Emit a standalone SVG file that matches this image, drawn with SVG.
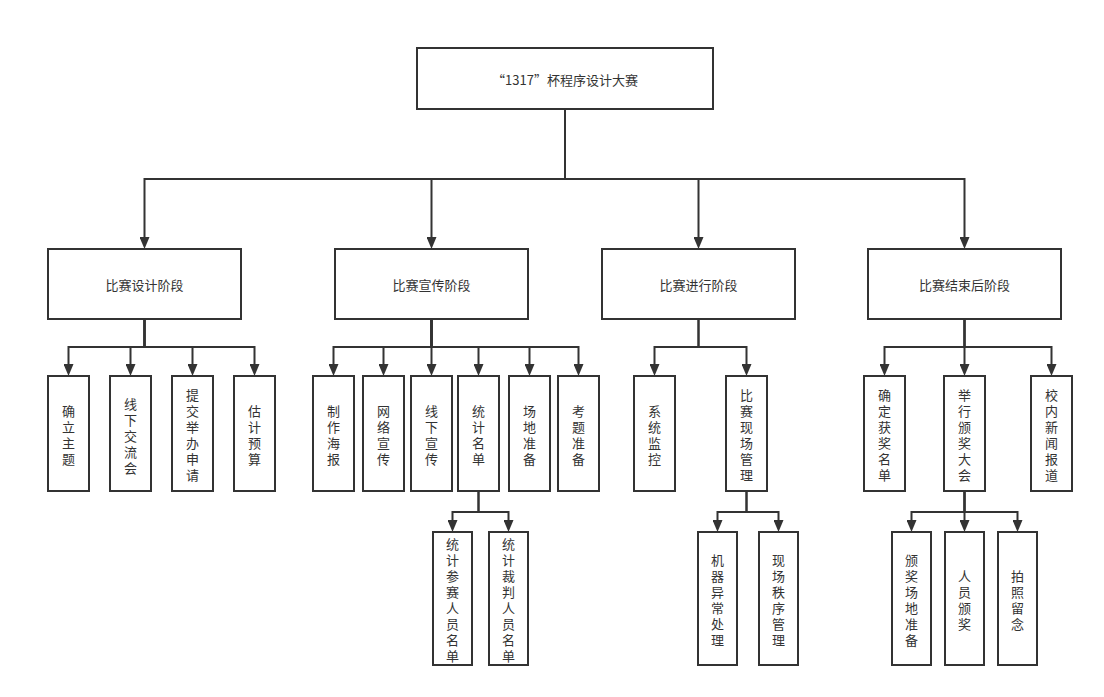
<svg xmlns="http://www.w3.org/2000/svg" width="1104" height="697" viewBox="0 0 1104 697">
<style>
.box{fill:#fff;stroke:#333;stroke-width:2}
.t{font-family:"Noto Sans CJK SC","Liberation Sans",sans-serif;font-size:13px;fill:#333;text-anchor:middle;dominant-baseline:central}
.c{fill:none;stroke:#333;stroke-width:2}
</style>
<defs>
<marker id="ar" markerUnits="userSpaceOnUse" markerWidth="12" markerHeight="10" viewBox="0 0 12 10" refX="0" refY="5" orient="auto">
<path d="M0,0 L12,5 L0,10 z" fill="#333"/>
</marker>
</defs>
<rect width="1104" height="697" fill="#fff"/>
<g id="connectors">
<path class="c" marker-end="url(#ar)" d="M565,109 V179 H144.5 V237"/>
<path class="c" marker-end="url(#ar)" d="M565,109 V179 H431.5 V237"/>
<path class="c" marker-end="url(#ar)" d="M565,109 V179 H698.5 V237"/>
<path class="c" marker-end="url(#ar)" d="M565,109 V179 H964.5 V237"/>

<path class="c" marker-end="url(#ar)" d="M144.5,319 V347 H68.5 V364"/>
<path class="c" marker-end="url(#ar)" d="M144.5,319 V347 H130.5 V364"/>
<path class="c" marker-end="url(#ar)" d="M144.5,319 V347 H192.5 V364"/>
<path class="c" marker-end="url(#ar)" d="M144.5,319 V347 H254.5 V364"/>

<path class="c" marker-end="url(#ar)" d="M431.5,319 V347 H333.5 V364"/>
<path class="c" marker-end="url(#ar)" d="M431.5,319 V347 H383.5 V364"/>
<path class="c" marker-end="url(#ar)" d="M431.5,319 V347 H431.5 V364"/>
<path class="c" marker-end="url(#ar)" d="M431.5,319 V347 H478.5 V364"/>
<path class="c" marker-end="url(#ar)" d="M431.5,319 V347 H529.5 V364"/>
<path class="c" marker-end="url(#ar)" d="M431.5,319 V347 H578.5 V364"/>

<path class="c" marker-end="url(#ar)" d="M478.5,491 V512 H452.5 V520"/>
<path class="c" marker-end="url(#ar)" d="M478.5,491 V512 H508.5 V520"/>

<path class="c" marker-end="url(#ar)" d="M698.5,319 V347 H654.5 V364"/>
<path class="c" marker-end="url(#ar)" d="M698.5,319 V347 H746.5 V364"/>

<path class="c" marker-end="url(#ar)" d="M746.5,491 V512 H717.5 V520"/>
<path class="c" marker-end="url(#ar)" d="M746.5,491 V512 H778.5 V520"/>

<path class="c" marker-end="url(#ar)" d="M964.5,319 V347 H884.5 V364"/>
<path class="c" marker-end="url(#ar)" d="M964.5,319 V347 H964.5 V364"/>
<path class="c" marker-end="url(#ar)" d="M964.5,319 V347 H1051.5 V364"/>

<path class="c" marker-end="url(#ar)" d="M964.5,491 V512 H911.5 V520"/>
<path class="c" marker-end="url(#ar)" d="M964.5,491 V512 H964.5 V520"/>
<path class="c" marker-end="url(#ar)" d="M964.5,491 V512 H1017.5 V520"/>
</g>

<g id="root"><rect class="box" x="417" y="48" width="296" height="61"/><text class="t" x="565" y="79">“1317”杯程序设计大赛</text></g>

<g id="stage1"><rect class="box" x="48" y="249" width="193" height="70"/><text class="t" x="144.5" y="284">比赛设计阶段</text></g>
<g id="stage2"><rect class="box" x="335" y="249" width="193" height="70"/><text class="t" x="431.5" y="284">比赛宣传阶段</text></g>
<g id="stage3"><rect class="box" x="602" y="249" width="193" height="70"/><text class="t" x="698.5" y="284">比赛进行阶段</text></g>
<g id="stage4"><rect class="box" x="868" y="249" width="193" height="70"/><text class="t" x="964.5" y="284">比赛结束后阶段</text></g>

<g id="d1"><rect class="box" x="48" y="376" width="41" height="115"/><text class="t" y="409.5"><tspan x="68.5">确</tspan><tspan x="68.5" dy="16">立</tspan><tspan x="68.5" dy="16">主</tspan><tspan x="68.5" dy="16">题</tspan></text></g>
<g id="d2"><rect class="box" x="110" y="376" width="41" height="115"/><text class="t" y="402.5"><tspan x="130.5">线</tspan><tspan x="130.5" dy="16">下</tspan><tspan x="130.5" dy="16">交</tspan><tspan x="130.5" dy="16">流</tspan><tspan x="130.5" dy="16">会</tspan></text></g>
<g id="d3"><rect class="box" x="172" y="376" width="41" height="115"/><text class="t" y="394"><tspan x="192.5">提</tspan><tspan x="192.5" dy="16">交</tspan><tspan x="192.5" dy="16">举</tspan><tspan x="192.5" dy="16">办</tspan><tspan x="192.5" dy="16">申</tspan><tspan x="192.5" dy="16">请</tspan></text></g>
<g id="d4"><rect class="box" x="234" y="376" width="41" height="115"/><text class="t" y="409.5"><tspan x="254.5">估</tspan><tspan x="254.5" dy="16">计</tspan><tspan x="254.5" dy="16">预</tspan><tspan x="254.5" dy="16">算</tspan></text></g>

<g id="p1"><rect class="box" x="313" y="376" width="41" height="115"/><text class="t" y="409.5"><tspan x="333.5">制</tspan><tspan x="333.5" dy="16">作</tspan><tspan x="333.5" dy="16">海</tspan><tspan x="333.5" dy="16">报</tspan></text></g>
<g id="p2"><rect class="box" x="363" y="376" width="41" height="115"/><text class="t" y="409.5"><tspan x="383.5">网</tspan><tspan x="383.5" dy="16">络</tspan><tspan x="383.5" dy="16">宣</tspan><tspan x="383.5" dy="16">传</tspan></text></g>
<g id="p3"><rect class="box" x="411" y="376" width="41" height="115"/><text class="t" y="409.5"><tspan x="431.5">线</tspan><tspan x="431.5" dy="16">下</tspan><tspan x="431.5" dy="16">宣</tspan><tspan x="431.5" dy="16">传</tspan></text></g>
<g id="p4"><rect class="box" x="458" y="376" width="41" height="115"/><text class="t" y="409.5"><tspan x="478.5">统</tspan><tspan x="478.5" dy="16">计</tspan><tspan x="478.5" dy="16">名</tspan><tspan x="478.5" dy="16">单</tspan></text></g>
<g id="p5"><rect class="box" x="509" y="376" width="41" height="115"/><text class="t" y="409.5"><tspan x="529.5">场</tspan><tspan x="529.5" dy="16">地</tspan><tspan x="529.5" dy="16">准</tspan><tspan x="529.5" dy="16">备</tspan></text></g>
<g id="p6"><rect class="box" x="558" y="376" width="41" height="115"/><text class="t" y="409.5"><tspan x="578.5">考</tspan><tspan x="578.5" dy="16">题</tspan><tspan x="578.5" dy="16">准</tspan><tspan x="578.5" dy="16">备</tspan></text></g>

<g id="p4a"><rect class="box" x="433" y="532" width="39" height="133"/><text class="t" y="543"><tspan x="452.5">统</tspan><tspan x="452.5" dy="16">计</tspan><tspan x="452.5" dy="16">参</tspan><tspan x="452.5" dy="16">赛</tspan><tspan x="452.5" dy="16">人</tspan><tspan x="452.5" dy="16">员</tspan><tspan x="452.5" dy="16">名</tspan><tspan x="452.5" dy="16">单</tspan></text></g>
<g id="p4b"><rect class="box" x="489" y="532" width="39" height="133"/><text class="t" y="543"><tspan x="508.5">统</tspan><tspan x="508.5" dy="16">计</tspan><tspan x="508.5" dy="16">裁</tspan><tspan x="508.5" dy="16">判</tspan><tspan x="508.5" dy="16">人</tspan><tspan x="508.5" dy="16">员</tspan><tspan x="508.5" dy="16">名</tspan><tspan x="508.5" dy="16">单</tspan></text></g>

<g id="r1"><rect class="box" x="634" y="376" width="41" height="115"/><text class="t" y="409.5"><tspan x="654.5">系</tspan><tspan x="654.5" dy="16">统</tspan><tspan x="654.5" dy="16">监</tspan><tspan x="654.5" dy="16">控</tspan></text></g>
<g id="r2"><rect class="box" x="726" y="376" width="41" height="115"/><text class="t" y="393.5"><tspan x="746.5">比</tspan><tspan x="746.5" dy="16">赛</tspan><tspan x="746.5" dy="16">现</tspan><tspan x="746.5" dy="16">场</tspan><tspan x="746.5" dy="16">管</tspan><tspan x="746.5" dy="16">理</tspan></text></g>
<g id="r2a"><rect class="box" x="698" y="532" width="39" height="133"/><text class="t" y="559"><tspan x="717.5">机</tspan><tspan x="717.5" dy="16">器</tspan><tspan x="717.5" dy="16">异</tspan><tspan x="717.5" dy="16">常</tspan><tspan x="717.5" dy="16">处</tspan><tspan x="717.5" dy="16">理</tspan></text></g>
<g id="r2b"><rect class="box" x="759" y="532" width="39" height="133"/><text class="t" y="559"><tspan x="778.5">现</tspan><tspan x="778.5" dy="16">场</tspan><tspan x="778.5" dy="16">秩</tspan><tspan x="778.5" dy="16">序</tspan><tspan x="778.5" dy="16">管</tspan><tspan x="778.5" dy="16">理</tspan></text></g>

<g id="e1"><rect class="box" x="864" y="376" width="41" height="115"/><text class="t" y="393.5"><tspan x="884.5">确</tspan><tspan x="884.5" dy="16">定</tspan><tspan x="884.5" dy="16">获</tspan><tspan x="884.5" dy="16">奖</tspan><tspan x="884.5" dy="16">名</tspan><tspan x="884.5" dy="16">单</tspan></text></g>
<g id="e2"><rect class="box" x="944" y="376" width="41" height="115"/><text class="t" y="393.5"><tspan x="964.5">举</tspan><tspan x="964.5" dy="16">行</tspan><tspan x="964.5" dy="16">颁</tspan><tspan x="964.5" dy="16">奖</tspan><tspan x="964.5" dy="16">大</tspan><tspan x="964.5" dy="16">会</tspan></text></g>
<g id="e3"><rect class="box" x="1031" y="376" width="41" height="115"/><text class="t" y="393.5"><tspan x="1051.5">校</tspan><tspan x="1051.5" dy="16">内</tspan><tspan x="1051.5" dy="16">新</tspan><tspan x="1051.5" dy="16">闻</tspan><tspan x="1051.5" dy="16">报</tspan><tspan x="1051.5" dy="16">道</tspan></text></g>
<g id="e2a"><rect class="box" x="892" y="532" width="39" height="133"/><text class="t" y="559"><tspan x="911.5">颁</tspan><tspan x="911.5" dy="16">奖</tspan><tspan x="911.5" dy="16">场</tspan><tspan x="911.5" dy="16">地</tspan><tspan x="911.5" dy="16">准</tspan><tspan x="911.5" dy="16">备</tspan></text></g>
<g id="e2b"><rect class="box" x="945" y="532" width="39" height="133"/><text class="t" y="575"><tspan x="964.5">人</tspan><tspan x="964.5" dy="16">员</tspan><tspan x="964.5" dy="16">颁</tspan><tspan x="964.5" dy="16">奖</tspan></text></g>
<g id="e2c"><rect class="box" x="998" y="532" width="39" height="133"/><text class="t" y="575"><tspan x="1017.5">拍</tspan><tspan x="1017.5" dy="16">照</tspan><tspan x="1017.5" dy="16">留</tspan><tspan x="1017.5" dy="16">念</tspan></text></g>
</svg>
